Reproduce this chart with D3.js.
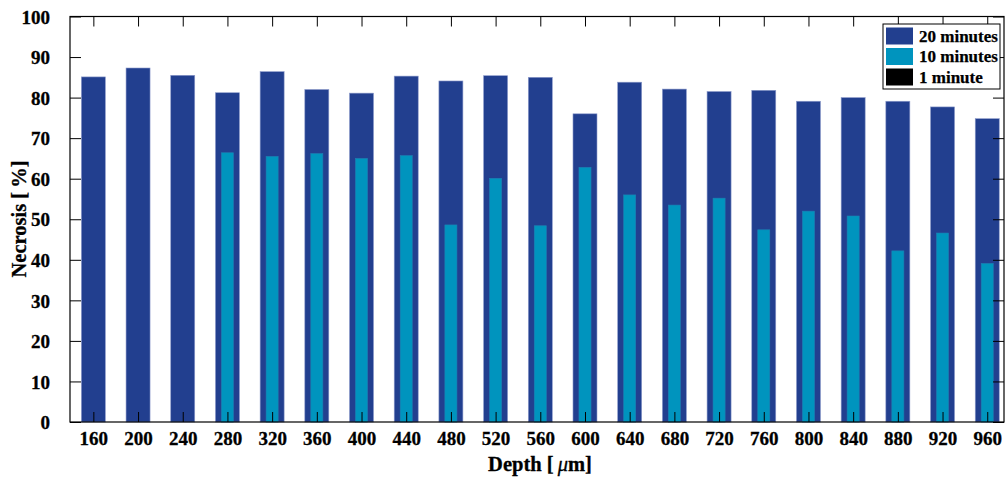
<!DOCTYPE html>
<html><head><meta charset="utf-8">
<script src="https://cdn.jsdelivr.net/npm/d3@7"></script>
<style>
html,body{margin:0;padding:0;background:#fff;}
svg{display:block;font-family:"Liberation Serif","Times New Roman",serif;font-weight:bold;}
</style></head>
<body>
<svg id="chart" width="1005" height="477"></svg>
<script>
const depths = [160,200,240,280,320,360,400,440,480,520,560,600,640,680,720,760,800,840,880,920,960];
const min20 = [85.1,87.3,85.5,81.2,86.4,82.0,81.1,85.3,84.1,85.4,85.0,76.0,83.8,82.1,81.5,81.8,79.1,80.0,79.1,77.7,74.8];
const min10 = [0,0,0,66.4,65.5,66.2,65.0,65.7,48.6,60.1,48.4,62.8,56.0,53.5,55.2,47.4,52.0,50.8,42.2,46.6,39.1];
const min1  = [0,0,0,0,0,0,0,0,0,0,0,0,0,0,0,0,0,0,0,0,0];
const yTicks = [0,10,20,30,40,50,60,70,80,90,100];
const seriesNames = ["20 minutes","10 minutes","1 minute"];
const seriesColors = ["#223F8F","#0094BE","#000000"];

const svg = d3.select("#chart");
const L = 70, R = 1004, T = 16.5, B = 422;
const x = d3.scaleLinear().domain([139.1, 975]).range([L, R]);
const y = d3.scaleLinear().domain([0, 100]).range([B, T]);
const step = x(200) - x(160);
const wideW = step * 0.537, narrowW = step * 0.27;

const g = svg.append("g");
g.selectAll("rect.m20").data(depths).join("rect")
  .attr("x", (d) => x(d) - wideW/2).attr("width", wideW)
  .attr("y", (d,i) => y(min20[i])).attr("height", (d,i) => y(0) - y(min20[i]))
  .attr("fill", seriesColors[0]).attr("stroke", "#8d9bcb").attr("stroke-width", 0.6);
g.selectAll("rect.m10").data(depths).join("rect")
  .attr("x", (d) => x(d) - narrowW/2).attr("width", narrowW)
  .attr("y", (d,i) => y(min10[i])).attr("height", (d,i) => y(0) - y(min10[i]))
  .attr("fill", seriesColors[1]).attr("stroke", "#1f7fb3").attr("stroke-width", (d,i)=>min10[i]>0?0.6:0);
g.selectAll("rect.m1").data(depths).join("rect")
  .attr("x", (d) => x(d) - narrowW/4).attr("width", narrowW/2)
  .attr("y", (d,i) => y(min1[i])).attr("height", (d,i) => y(0) - y(min1[i]))
  .attr("fill", seriesColors[2]);

svg.append("rect").attr("x",L).attr("y",T).attr("width",R-L).attr("height",B-T)
  .attr("fill","none").attr("stroke","#000").attr("stroke-width",1.2);

const xb = svg.append("g").attr("transform",`translate(0,${B})`)
  .call(d3.axisBottom(x).tickValues(depths).tickSize(-10).tickPadding(21).tickFormat(d3.format("d")));
const xt = svg.append("g").attr("transform",`translate(0,${T})`)
  .call(d3.axisTop(x).tickValues(depths).tickSize(-10).tickFormat(""));
const yl = svg.append("g").attr("transform",`translate(${L},0)`)
  .call(d3.axisLeft(y).tickValues(yTicks).tickSize(-11).tickPadding(20).tickFormat(d3.format("d")));
const yr = svg.append("g").attr("transform",`translate(${R},0)`)
  .call(d3.axisRight(y).tickValues(yTicks).tickSize(-11).tickFormat(""));
[xb,xt,yl,yr].forEach(a => {
  a.attr("font-family", null);
  a.select(".domain").remove();
  a.selectAll(".tick line").attr("stroke","#000").attr("stroke-width",1);
  a.selectAll("text").attr("font-family","Liberation Serif, serif").attr("font-weight","bold")
    .attr("font-size",19).attr("fill","#000").attr("stroke","#000").attr("stroke-width",0.3);
});
xb.selectAll("text").attr("dy","0.1em");
yl.selectAll("text").attr("dy","0.35em");

const xlab = svg.append("text").attr("x", 540).attr("y", 471).attr("text-anchor","middle")
  .attr("font-size",20.5).attr("fill","#000").attr("stroke","#000").attr("stroke-width",0.3);
xlab.append("tspan").text("Depth [\u2009");
xlab.append("tspan").attr("font-style","italic").attr("font-weight","normal").text("\u03bc");
xlab.append("tspan").text("m]");
svg.append("text").attr("transform","translate(26,219) rotate(-90)").attr("text-anchor","middle")
  .attr("font-size",20.5).attr("fill","#000").attr("stroke","#000").attr("stroke-width",0.3)
  .text("Necrosis [\u2009%]");

const lg = svg.append("g").attr("transform","translate(883,24)");
lg.append("rect").attr("width",117).attr("height",65).attr("fill","#fff").attr("stroke","#000").attr("stroke-width",1);
seriesNames.forEach((n,i) => {
  const yy = 3.5 + i*20.5;
  lg.append("rect").attr("x",3).attr("y",yy).attr("width",27).attr("height",17).attr("fill",seriesColors[i]);
  lg.append("text").attr("x",36).attr("y",yy+14).attr("font-size",17).attr("fill","#000")
    .attr("stroke","#000").attr("stroke-width",0.25).text(n);
});
</script>
</body></html>
